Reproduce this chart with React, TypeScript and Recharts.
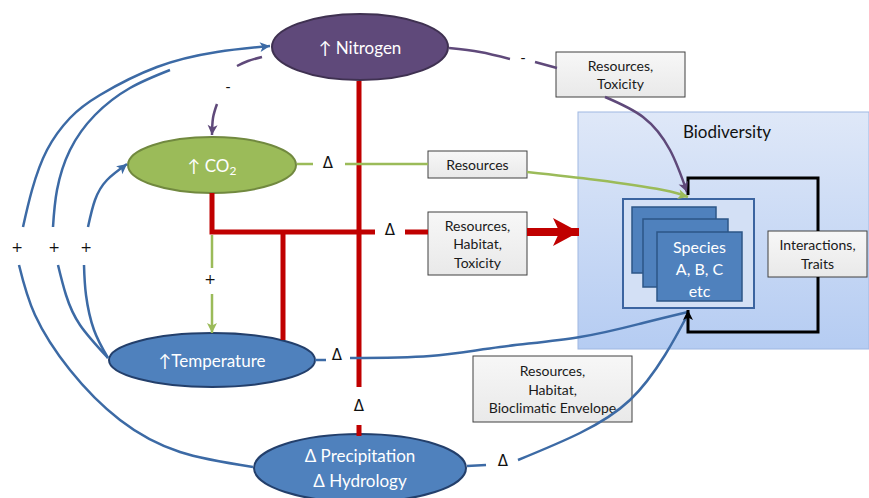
import React from 'react';
import { ComposedChart, XAxis, YAxis, Line, Scatter, ReferenceArea } from 'recharts';

const W = 869;
const H = 498;
const FONT = 'Lato, "Open Sans", sans-serif';

type Pt = { x: number; y: number };
type Edge = { pts: Pt[]; curve?: boolean; arrow?: boolean };
const p = (x: number, y: number): Pt => ({ x, y });

// drivers (ellipses): centre + radii, in picture units
const nodeIds = ['nitrogen', 'co2', 'temperature', 'precipitation'];
const nodeCenters = [p(360, 47), p(212, 165), p(212, 360), p(360, 468)];
const nodeRadii = [[88, 33], [84, 28], [103, 27], [106, 34]];
const nodeLabels = [['↑ Nitrogen'], ['↑ CO_2'], ['↑Temperature'], ['Δ Precipitation', 'Δ  Hydrology']];

// mechanism boxes: x1, x2, y1, y2
const boxBounds = [
  [556, 685, 52, 97],
  [428, 527, 151, 178],
  [428, 527, 212, 275],
  [473, 632, 356, 422],
  [768, 867, 231, 277],
];
const boxLabels = [
  ['Resources,', 'Toxicity'],
  ['Resources'],
  ['Resources,', 'Habitat,', 'Toxicity'],
  ['Resources,', 'Habitat,', 'Bioclimatic Envelope'],
  ['Interactions,', 'Traits'],
];

const panelBounds = [578, 869, 112, 349];
const panelTitle = 'Biodiversity';
const speciesFrame = [623, 754, 199, 308];
const speciesCards = [
  [632, 716, 207, 273],
  [643, 728, 219, 287],
  [657, 742, 232, 301],
];
const speciesText = ['Species', 'A, B, C', 'etc'];

const signs = [
  { x: 17, y: 247, t: '+' },
  { x: 54, y: 247, t: '+' },
  { x: 86, y: 247, t: '+' },
  { x: 228, y: 87, t: '-' },
  { x: 210, y: 279, t: '+' },
  { x: 523, y: 58, t: '-' },
  { x: 328, y: 163, t: 'Δ' },
  { x: 390, y: 230, t: 'Δ' },
  { x: 337, y: 355, t: 'Δ' },
  { x: 359, y: 406, t: 'Δ' },
  { x: 503, y: 461, t: 'Δ' },
];

const redEdges: Edge[] = [
  { pts: [p(359, 81), p(359, 387)] },
  { pts: [p(359, 425), p(359, 436)] },
  { pts: [p(212, 193), p(212, 232), p(375, 232)] },
  { pts: [p(405, 232), p(428, 232)] },
  { pts: [p(283, 232), p(283, 340)] },
];
const redArrow: Pt[] = [p(527, 232), p(579, 232)];

const greenEdges: Edge[] = [
  { pts: [p(297, 164), p(313, 164)] },
  { pts: [p(345, 164), p(428, 164)] },
  { pts: [p(527, 172), p(597, 180), p(663, 190), p(688, 197)], curve: true, arrow: true },
  { pts: [p(212, 235), p(212, 268)] },
  { pts: [p(212, 294), p(212, 333)], arrow: true },
];

const purpleEdges: Edge[] = [
  { pts: [p(262, 57), p(248, 61), p(237, 66)], curve: true },
  { pts: [p(217, 104), p(213, 118), p(212, 135)], curve: true, arrow: true },
  { pts: [p(449, 48), p(480, 52), p(510, 59)], curve: true },
  { pts: [p(535, 62), p(557, 68)] },
  { pts: [p(605, 97), p(643, 117), p(670, 150), p(687, 192)], curve: true, arrow: true },
];

const blueEdges: Edge[] = [
  { pts: [p(23, 227), p(32, 190), p(47, 150), p(70, 118), p(100, 95), p(157, 67), p(217, 52), p(270, 46)], curve: true, arrow: true },
  { pts: [p(53, 227), p(57, 190), p(70, 150), p(95, 115), p(130, 88), p(170, 70)], curve: true },
  { pts: [p(88, 227), p(95, 200), p(107, 180), p(127, 164)], curve: true, arrow: true },
  { pts: [p(19, 265), p(35, 315), p(70, 370), p(120, 420), p(180, 452), p(253, 467)], curve: true },
  { pts: [p(58, 265), p(66, 295), p(80, 325), p(108, 358)], curve: true },
  { pts: [p(84, 265), p(86, 295), p(94, 330), p(108, 358)], curve: true },
  { pts: [p(315, 360), p(326, 360)] },
  { pts: [p(350, 358), p(430, 356), p(500, 347), p(580, 337), p(643, 323), p(688, 312)], curve: true },
  { pts: [p(467, 466), p(486, 465)] },
  { pts: [p(518, 460), p(580, 433), p(630, 400), p(665, 355), p(688, 314)], curve: true },
];

const blackEdges: Edge[] = [
  { pts: [p(688, 195), p(688, 178), p(818, 178), p(818, 231)] },
  { pts: [p(818, 277), p(818, 332), p(688, 332), p(688, 310)], arrow: true },
];

const nodeStyle: Record<string, { fill: string; stroke: string }> = {
  nitrogen: { fill: '#5f497a', stroke: '#3f3151' },
  co2: { fill: '#9bbb59', stroke: '#71893f' },
  temperature: { fill: '#4f81bd', stroke: '#233f6b' },
  precipitation: { fill: '#4f81bd', stroke: '#233f6b' },
};

const arrowDot = (pts: Pt[], color: string, len: number, half: number, on: boolean) => (props: any) => {
  const { cx, cy, index } = props;
  if (!on || index !== pts.length - 1 || cx == null) return <g key={`n${index}`} />;
  const a = pts[index];
  const b = pts[index - 1];
  const ang = (Math.atan2(a.y - b.y, a.x - b.x) * 180) / Math.PI;
  return (
    <path
      key={`a${index}`}
      d={`M0,0 L${-len},${-half} L${-len * 0.75},0 L${-len},${half} Z`}
      transform={`translate(${cx},${cy}) rotate(${ang})`}
      fill={color}
    />
  );
};

function edgeLines(edges: Edge[], color: string, width: number, prefix: string) {
  return edges.map((e, i) => (
    <Line
      key={`${prefix}${i}`}
      data={e.pts}
      dataKey="y"
      type={e.curve ? 'natural' : 'linear'}
      stroke={color}
      strokeWidth={width}
      dot={arrowDot(e.pts, color, 10, 5, !!e.arrow)}
      activeDot={false}
      isAnimationActive={false}
      legendType="none"
    />
  ));
}

const EllipseShape = (id: string, lines: string[]) => (s: any) => {
  const cx = s.x + s.width / 2;
  const cy = s.y + s.height / 2;
  const st = nodeStyle[id];
  const lh = 25;
  const y0 = cy - ((lines.length - 1) * lh) / 2;
  return (
    <g>
      <ellipse cx={cx} cy={cy} rx={s.width / 2} ry={s.height / 2} fill={st.fill} stroke={st.stroke} strokeWidth={2} />
      {lines.map((l, i) => {
        const sub = l.split('_');
        return (
          <text key={i} x={cx} y={y0 + i * lh} textAnchor="middle" dominantBaseline="central" fill="#fff" fontFamily={FONT} fontSize={17}>
            {sub[0]}
            {sub[1] && (
              <tspan fontSize={12} dy={5}>
                {sub[1]}
              </tspan>
            )}
          </text>
        );
      })}
    </g>
  );
};

const BoxShape = (lines: string[], i: number) => (s: any) => {
  const cx = s.x + s.width / 2;
  const cy = s.y + s.height / 2;
  const lh = 18.5;
  const y0 = cy - ((lines.length - 1) * lh) / 2;
  return (
    <g>
      <defs>
        <linearGradient id={`bx${i}`} x1="0" y1="0" x2="0" y2="1">
          <stop offset="0" stopColor="#f7f7f7" />
          <stop offset="1" stopColor="#e9e9e9" />
        </linearGradient>
      </defs>
      <rect x={s.x} y={s.y} width={s.width} height={s.height} fill={`url(#bx${i})`} stroke="#404040" strokeWidth={1} />
      {lines.map((l, k) => (
        <text key={k} x={cx} y={y0 + k * lh} textAnchor="middle" dominantBaseline="central" fill="#1a1a1a" fontFamily={FONT} fontSize={14}>
          {l}
        </text>
      ))}
    </g>
  );
};

const PanelShape = (s: any) => (
  <g>
    <defs>
      <linearGradient id="bioGrad" x1="0" y1="0" x2="0" y2="1">
        <stop offset="0" stopColor="#dfe8f8" />
        <stop offset="1" stopColor="#b5ccf2" />
      </linearGradient>
    </defs>
    <rect x={s.x} y={s.y} width={s.width} height={s.height} fill="url(#bioGrad)" stroke="#9fb8e2" strokeWidth={1} />
    <text x={s.x + 149} y={s.y + 19} textAnchor="middle" dominantBaseline="central" fill="#111" fontFamily={FONT} fontSize={17}>
      {panelTitle}
    </text>
  </g>
);

const FrameShape = (s: any) => (
  <rect x={s.x} y={s.y} width={s.width} height={s.height} fill="#d3e0f5" stroke="#3b64a0" strokeWidth={2} />
);

const CardShape = (last: boolean) => (s: any) => {
  const cx = s.x + s.width / 2;
  return (
    <g>
      <rect x={s.x} y={s.y} width={s.width} height={s.height} fill="#4f81bd" stroke="#2c5687" strokeWidth={1.5} />
      {last &&
        speciesText.map((t, k) => (
          <text key={k} x={cx} y={s.y + 14 + k * 22} textAnchor="middle" dominantBaseline="central" fill="#fff" fontFamily={FONT} fontSize={16}>
            {t}
          </text>
        ))}
    </g>
  );
};

const SignShape = (s: any) => (
  <text x={s.cx} y={s.cy} textAnchor="middle" dominantBaseline="central" fill="#111" fontFamily={'"DejaVu Sans", sans-serif'} fontSize={s.payload.t === 'Δ' ? 15 : 14}>
    {s.payload.t}
  </text>
);

export default function App() {
  return (
    <div style={{ position: 'absolute', left: 0, top: 0, width: W, height: H, background: '#fff' }}>
      <ComposedChart width={W} height={H} margin={{ top: 0, right: 0, bottom: 0, left: 0 }}>
        <XAxis type="number" dataKey="x" domain={[0, W]} hide allowDataOverflow />
        <YAxis type="number" dataKey="y" domain={[0, H]} reversed hide allowDataOverflow />

        <ReferenceArea x1={panelBounds[0]} x2={panelBounds[1]} y1={panelBounds[2]} y2={panelBounds[3]} ifOverflow="visible" shape={PanelShape} />
        <ReferenceArea x1={speciesFrame[0]} x2={speciesFrame[1]} y1={speciesFrame[2]} y2={speciesFrame[3]} ifOverflow="visible" shape={FrameShape} />
        {speciesCards.map((c, i) => (
          <ReferenceArea key={`card${i}`} x1={c[0]} x2={c[1]} y1={c[2]} y2={c[3]} ifOverflow="visible" shape={CardShape(i === speciesCards.length - 1)} />
        ))}

        {edgeLines(redEdges, '#c00000', 5, 'r')}
        <Line
          data={redArrow}
          dataKey="y"
          type="linear"
          stroke="#c00000"
          strokeWidth={8}
          dot={arrowDot(redArrow, '#c00000', 26, 14, true)}
          activeDot={false}
          isAnimationActive={false}
          legendType="none"
        />
        {edgeLines(greenEdges, '#9bbb59', 2.5, 'g')}
        {edgeLines(purpleEdges, '#5f497a', 2.5, 'p')}
        {edgeLines(blueEdges, '#3c6aa5', 2.5, 'b')}
        {edgeLines(blackEdges, '#000000', 3, 'k')}

        {nodeIds.map((id, i) => (
          <ReferenceArea
            key={id}
            x1={nodeCenters[i].x - nodeRadii[i][0]}
            x2={nodeCenters[i].x + nodeRadii[i][0]}
            y1={nodeCenters[i].y - nodeRadii[i][1]}
            y2={nodeCenters[i].y + nodeRadii[i][1]}
            ifOverflow="visible"
            shape={EllipseShape(id, nodeLabels[i])}
          />
        ))}
        {boxBounds.map((b, i) => (
          <ReferenceArea key={`box${i}`} x1={b[0]} x2={b[1]} y1={b[2]} y2={b[3]} ifOverflow="visible" shape={BoxShape(boxLabels[i], i)} />
        ))}

        <Scatter data={signs} shape={SignShape} isAnimationActive={false} legendType="none" />
      </ComposedChart>
    </div>
  );
}
